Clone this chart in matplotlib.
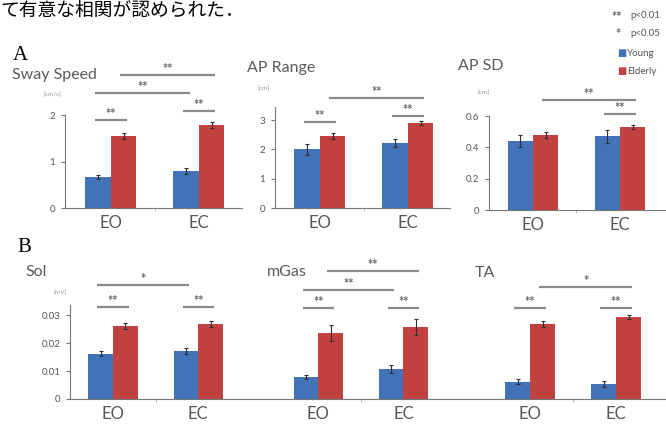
import matplotlib.pyplot as plt

plt.rcParams['font.family'] = ['Lato', 'DejaVu Sans']

W, H = 666, 425
BLUE = '#4272b8'
RED = '#c0413f'
GRAY = '#555555'
LINE = '#8a8a8a'

groups = ['EO', 'EC']

sway_young = [0.67, 0.80]
sway_elderly = [1.55, 1.79]
sway_young_err = [0.05, 0.07]
sway_elderly_err = [0.07, 0.06]

aprange_young = [2.00, 2.22]
aprange_elderly = [2.45, 2.90]
aprange_young_err = [0.20, 0.15]
aprange_elderly_err = [0.10, 0.08]

apsd_young = [0.44, 0.47]
apsd_elderly = [0.48, 0.53]
apsd_young_err = [0.04, 0.04]
apsd_elderly_err = [0.02, 0.01]

sol_young = [0.0162, 0.0172]
sol_elderly = [0.0262, 0.0268]
sol_young_err = [0.0010, 0.0010]
sol_elderly_err = [0.0010, 0.0012]

mgas_young = [0.0078, 0.0107]
mgas_elderly = [0.0236, 0.0257]
mgas_young_err = [0.0008, 0.0015]
mgas_elderly_err = [0.0030, 0.0030]

ta_young = [0.0062, 0.0054]
ta_elderly = [0.0268, 0.0293]
ta_young_err = [0.0010, 0.0010]
ta_elderly_err = [0.0010, 0.0008]

# significance brackets: (bar a, bar b, stars, height in data units)
# bars: 0 EO young, 1 EO elderly, 2 EC young, 3 EC elderly
sway_sig = [(0, 1, '**', 1.89), (2, 3, '**', 2.09), (0, 2, '**', 2.47), (1, 3, '**', 2.86)]
aprange_sig = [(0, 1, '**', 2.94), (2, 3, '**', 3.14), (1, 3, '**', 3.75)]
apsd_sig = [(2, 3, '**', 0.61), (1, 3, '**', 0.70)]
sol_sig = [(0, 1, '**', 0.0329), (2, 3, '**', 0.0329), (0, 2, '*', 0.0407)]
mgas_sig = [(0, 1, '**', 0.0325), (2, 3, '**', 0.0325), (0, 2, '**', 0.0389), (1, 3, '**', 0.0457)]
ta_sig = [(0, 1, '**', 0.0325), (2, 3, '**', 0.0325), (1, 3, '*', 0.0400)]

sway_ticks = [0, 1, 2]
aprange_ticks = [0, 1, 2, 3]
apsd_ticks = [0, 0.2, 0.4, 0.6]
apsd_ticklabels = ['0', '0.2', '0.4', '0.6']
emg_ticks = [0, 0.01, 0.02, 0.03]
emg_ticklabels = ['0', '0.01', '0.02', '0.03']

fig = plt.figure(figsize=(W / 100, H / 100), dpi=100)
w = 0.29


def px_axes(l, t, r, b):
    return fig.add_axes([l / W, 1 - b / H, (r - l) / W, (b - t) / H])


def ftext(x, y, s, **kw):
    fig.text(x / W, 1 - y / H, s, **kw)


def panel(rect, xlim, ylim, young, elderly, yerr_y, yerr_e, sig,
          yticks=None, yticklabels=None, show_y=True):
    ax = px_axes(*rect)
    xs = [0, 1]
    ekw = dict(ecolor='#2e2e2e', elinewidth=0.8, capsize=1.5, capthick=0.8)
    ax.bar([x - w / 2 for x in xs], young, w, yerr=yerr_y, color=BLUE, error_kw=ekw)
    ax.bar([x + w / 2 for x in xs], elderly, w, yerr=yerr_e, color=RED, error_kw=ekw)
    ax.set_xlim(*xlim)
    ax.set_ylim(*ylim)
    ax.set_xticks(xs)
    ax.set_xticklabels(groups, fontsize=12, color=GRAY)
    ax.set_xticks([0.5], minor=True)
    ax.tick_params(axis='x', which='major', length=0, pad=5)
    ax.tick_params(axis='x', which='minor', length=2, color='#aaaaaa')
    for s in ['top', 'right']:
        ax.spines[s].set_visible(False)
    ax.spines['bottom'].set_color('#777777')
    if show_y:
        ax.spines['left'].set_color('#777777')
        ax.set_yticks(yticks)
        if yticklabels is not None:
            ax.set_yticklabels(yticklabels)
        ax.tick_params(axis='y', length=3, color='#777777', labelsize=7,
                       labelcolor=GRAY, pad=4)
    else:
        ax.spines['left'].set_visible(False)
        ax.set_yticks([])
    centers = [-w / 2, w / 2, 1 - w / 2, 1 + w / 2]
    for a, b, stars, h in sig:
        x0, x1 = centers[a] - 0.04, centers[b] + 0.04
        ax.plot([x0, x1], [h, h], color=LINE, lw=1.6, clip_on=False,
                solid_capstyle='butt')
        ax.annotate(stars, ((x0 + x1) / 2, h), xytext=(0, 0),
                    textcoords='offset points', ha='center', va='bottom',
                    fontsize=9, fontweight='bold', color='#666666',
                    annotation_clip=False)
    return ax


panel((65, 115, 242, 208), (-0.523, 1.49), (0, 2), sway_young, sway_elderly,
      sway_young_err, sway_elderly_err, sway_sig, sway_ticks)
panel((275, 107, 450, 208), (-0.51, 1.48), (0, 3.45), aprange_young, aprange_elderly,
      aprange_young_err, aprange_elderly_err, aprange_sig, aprange_ticks)
panel((489, 116, 666, 210), (-0.506, 1.53), (0, 0.6), apsd_young, apsd_elderly,
      apsd_young_err, apsd_elderly_err, apsd_sig, apsd_ticks, apsd_ticklabels)
panel((70, 305, 240, 399), (-0.506, 1.49), (0, 0.0336), sol_young, sol_elderly,
      sol_young_err, sol_elderly_err, sol_sig, emg_ticks, emg_ticklabels)
panel((240, 305, 445, 399), (-0.92, 1.49), (0, 0.0336), mgas_young, mgas_elderly,
      mgas_young_err, mgas_elderly_err, mgas_sig, show_y=False)
panel((445, 305, 666, 399), (-0.99, 1.58), (0, 0.0336), ta_young, ta_elderly,
      ta_young_err, ta_elderly_err, ta_sig, show_y=False)

# panel titles and units
title_kw = dict(fontsize=11.5, color='#5a5a5a', va='center')
ftext(12, 75, 'Sway Speed', **title_kw)
ftext(247, 68, 'AP Range', **title_kw)
ftext(458, 66, 'AP SD', **title_kw)
ftext(25, 272, 'Sol', **title_kw)
ftext(267, 272, 'mGas', **title_kw)
ftext(475, 273, 'TA', **title_kw)

unit_kw = dict(fontsize=4.5, color='#999999', va='center')
ftext(43, 95, '[cm/s]', **unit_kw)
ftext(257, 89, '[cm]', **unit_kw)
ftext(477, 93, '[cm]', **unit_kw)
ftext(53, 293, '[mV]', **unit_kw)

# section letters
ftext(13, 56, 'A', fontsize=15, family='Liberation Serif', va='center')
ftext(17, 247, 'B', fontsize=15, family='Liberation Serif', va='center')

# running text above the figure
ftext(0, 0, 'て有意な相関が認められた．', fontsize=13.5,
      family=['Noto Sans CJK JP', 'DejaVu Sans'], va='top')

# legend
leg_kw = dict(fontsize=7, color=GRAY, va='center')
ftext(611, 17, '**', fontsize=9, fontweight='bold', color='#666666', va='center')
ftext(630, 16, 'p<0.01', **leg_kw)
ftext(615, 34, '*', fontsize=9, fontweight='bold', color='#666666', va='center')
ftext(630, 33, 'p<0.05', **leg_kw)
ftext(617, 53, '■', fontsize=7, color=BLUE, va='center', family='DejaVu Sans')
ftext(627, 53, 'Young', **leg_kw)
ftext(617, 71, '■', fontsize=7, color=RED, va='center', family='DejaVu Sans')
ftext(627, 71, 'Elderly', **leg_kw)

fig.savefig('out.png', dpi=100)
